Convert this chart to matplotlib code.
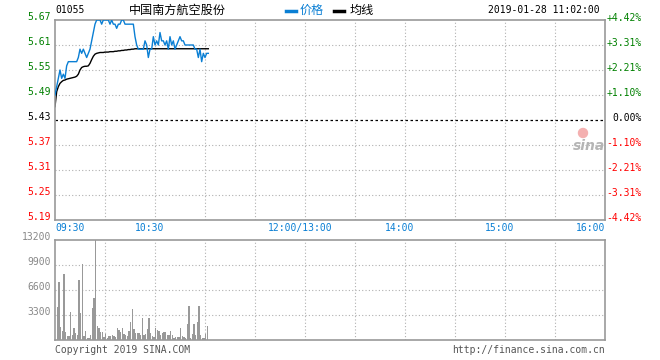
import matplotlib
matplotlib.use("Agg")
import matplotlib.pyplot as plt
from matplotlib.patches import Ellipse

plt.rcParams['font.family'] = ['DejaVu Sans Mono', 'Noto Sans CJK SC']

# minute-by-minute data from 09:30 to 11:02
price = [5.49, 5.51, 5.53, 5.55, 5.53, 5.54, 5.53, 5.56, 5.57, 5.57,
         5.57, 5.57, 5.57, 5.57, 5.58, 5.60, 5.59, 5.60, 5.59, 5.58,
         5.59, 5.60, 5.62, 5.64, 5.66, 5.67, 5.67, 5.67, 5.66, 5.67,
         5.67, 5.67, 5.67, 5.66, 5.67, 5.66, 5.66, 5.65, 5.66, 5.66,
         5.67, 5.67, 5.66, 5.66, 5.66, 5.66, 5.66, 5.66, 5.63, 5.61,
         5.60, 5.60, 5.60, 5.60, 5.62, 5.61, 5.58, 5.60, 5.60, 5.63,
         5.61, 5.62, 5.61, 5.64, 5.62, 5.62, 5.61, 5.62, 5.60, 5.63,
         5.61, 5.62, 5.60, 5.61, 5.62, 5.63, 5.62, 5.62, 5.61, 5.61,
         5.61, 5.61, 5.61, 5.61, 5.60, 5.60, 5.58, 5.60, 5.57, 5.59,
         5.58, 5.59, 5.59]
avg = [5.462, 5.498, 5.510, 5.518, 5.522, 5.525, 5.526, 5.528, 5.529, 5.530,
       5.531, 5.532, 5.533, 5.535, 5.540, 5.550, 5.556, 5.558, 5.559, 5.559,
       5.560, 5.566, 5.575, 5.583, 5.588, 5.590, 5.591, 5.592, 5.592, 5.592,
       5.593, 5.593, 5.593, 5.594, 5.594, 5.594, 5.595, 5.595, 5.596, 5.596,
       5.597, 5.597, 5.598, 5.598, 5.599, 5.599, 5.600, 5.600, 5.601, 5.601,
       5.601, 5.601, 5.601, 5.601, 5.601, 5.601, 5.601, 5.601, 5.601, 5.601,
       5.601, 5.601, 5.601, 5.601, 5.601, 5.601, 5.601, 5.601, 5.601, 5.601,
       5.601, 5.601, 5.601, 5.601, 5.601, 5.601, 5.601, 5.601, 5.601, 5.601,
       5.601, 5.601, 5.601, 5.601, 5.601, 5.601, 5.601, 5.601, 5.601, 5.601,
       5.601, 5.601, 5.601]
volume = [4400, 7700, 1760, 1190, 8700, 1000, 530, 530, 3650, 660,
          1540, 970, 660, 7900, 3520, 10000, 530, 1190, 220, 220,
          660, 4270, 5590, 13200, 1890, 1540, 1100, 1100, 440, 750,
          300, 530, 530, 660, 530, 440, 1540, 1320, 1100, 1630,
          750, 660, 530, 1190, 2420, 4090, 1450, 880, 970, 970,
          660, 2860, 660, 790, 1450, 2860, 970, 530, 440, 1540,
          1320, 1190, 660, 970, 1100, 1100, 660, 660, 1190, 660,
          220, 440, 440, 440, 1540, 530, 350, 300, 2070, 4490,
          300, 790, 2110, 660, 2330, 4490, 660, 220, 300, 790,
          1850]

prev_close = 5.43
price_ticks = [5.67, 5.61, 5.55, 5.49, 5.43, 5.37, 5.31, 5.25, 5.19]
pct_labels = ['+4.42%', '+3.31%', '+2.21%', '+1.10%', '0.00%',
              '-1.10%', '-2.21%', '-3.31%', '-4.42%']
vol_ticks = [3300, 6600, 9900, 13200]
time_labels = ['09:30', '10:30', '12:00/13:00', '14:00', '15:00', '16:00']
time_pos = [0, 60, 150, 210, 270, 330]

W, H = 660, 360
BLUE = '#0a7fd4'
GREEN = '#008000'
RED = '#ff0000'
GRID = '#b0b0b0'
FRAME = '#999999'

fig = plt.figure(figsize=(6.6, 3.6), dpi=100)


def px(x, y):
    return x / W, 1 - y / H


def style(ax):
    for s in ax.spines.values():
        s.set_color(FRAME)
        s.set_linewidth(1.2)
    ax.set_xticks([])
    ax.set_yticks([])
    ax.set_xlim(0, 330)
    for m in range(30, 330, 30):
        ax.axvline(m, color=GRID, lw=0.8, ls=(0, (1, 2)), zorder=0)


# price panel
ax = fig.add_axes([55 / W, 1 - 220 / H, 550 / W, 200 / H])
style(ax)
ax.set_ylim(5.19, 5.67)
for p in price_ticks[1:-1]:
    if p != prev_close:
        ax.axhline(p, color=GRID, lw=0.8, ls=(0, (1, 2)), zorder=0)
ax.axhline(prev_close, color='black', lw=0.9, ls=(0, (2, 2)), zorder=1)
minutes = list(range(len(price)))
ax.plot(minutes, price, color=BLUE, lw=1.0, zorder=3)
ax.plot(minutes, avg, color='black', lw=1.0, zorder=2)

for i, p in enumerate(price_ticks):
    c = GREEN if p > prev_close else (RED if p < prev_close else 'black')
    y = 20 + i * 25 - 3
    fig.text(*px(51, y), f'{p:.2f}', ha='right', va='center', fontsize=7, color=c)
    fig.text(*px(642, y + 1), pct_labels[i], ha='right', va='center', fontsize=7, color=c)

for lab, m in zip(time_labels, time_pos):
    x = 55 + m * 5 / 3
    if m == 0:
        fig.text(*px(x, 228), lab, ha='left', va='center', fontsize=7, color=BLUE)
    elif m == 330:
        fig.text(*px(x, 228), lab, ha='right', va='center', fontsize=7, color=BLUE)
    else:
        fig.text(*px(x - 5, 228), lab, ha='center', va='center', fontsize=7, color=BLUE)

# sina watermark
fig.text(*px(589, 146), 'sina', ha='center', va='center', fontsize=10,
         fontweight='bold', style='italic', color='#b5b5b5', family='DejaVu Sans')
fig.patches.append(Ellipse(px(583, 133), 9 / W, 9 / H, color='#f4b0b0',
                           transform=fig.transFigure, zorder=5))

# header
fig.text(*px(55, 10), '01055', ha='left', va='center', fontsize=7, color='black')
fig.text(*px(177, 10), '中国南方航空股份', ha='center', va='center', fontsize=8.7,
         color='black', family='Noto Sans CJK SC')
fig.lines.append(plt.Line2D([286 / W, 296 / W], [1 - 11 / H] * 2, color=BLUE, lw=2.5,
                            transform=fig.transFigure))
fig.text(*px(300, 10), '价格', ha='left', va='center', fontsize=8.7, color=BLUE,
         family='Noto Sans CJK SC')
fig.lines.append(plt.Line2D([334 / W, 344 / W], [1 - 11 / H] * 2, color='black', lw=2.5,
                            transform=fig.transFigure))
fig.text(*px(350, 10), '均线', ha='left', va='center', fontsize=8.7, color='black',
         family='Noto Sans CJK SC')
fig.text(*px(600, 10), '2019-01-28 11:02:00', ha='right', va='center', fontsize=7,
         color='black')

# volume panel
vx = fig.add_axes([55 / W, 1 - 340 / H, 550 / W, 100 / H])
style(vx)
vx.set_ylim(0, 13200)
for v in vol_ticks[:-1]:
    vx.axhline(v, color=GRID, lw=0.8, ls=(0, (1, 2)), zorder=0)
bar_x = [i + 1.4 for i in range(len(volume))]
vx.bar(bar_x, volume, width=0.65, color='#999999', antialiased=False, zorder=2)
for i, v in enumerate(vol_ticks):
    y = 240 + (3 - i) * 25 - 3
    fig.text(*px(51, y), str(v), ha='right', va='center', fontsize=7, color='#888888')

fig.text(*px(55, 350), 'Copyright 2019 SINA.COM', ha='left', va='center',
         fontsize=7, color='#555555')
fig.text(*px(605, 350), 'http://finance.sina.com.cn', ha='right', va='center',
         fontsize=7, color='#555555')

fig.savefig('out.png', dpi=100)
